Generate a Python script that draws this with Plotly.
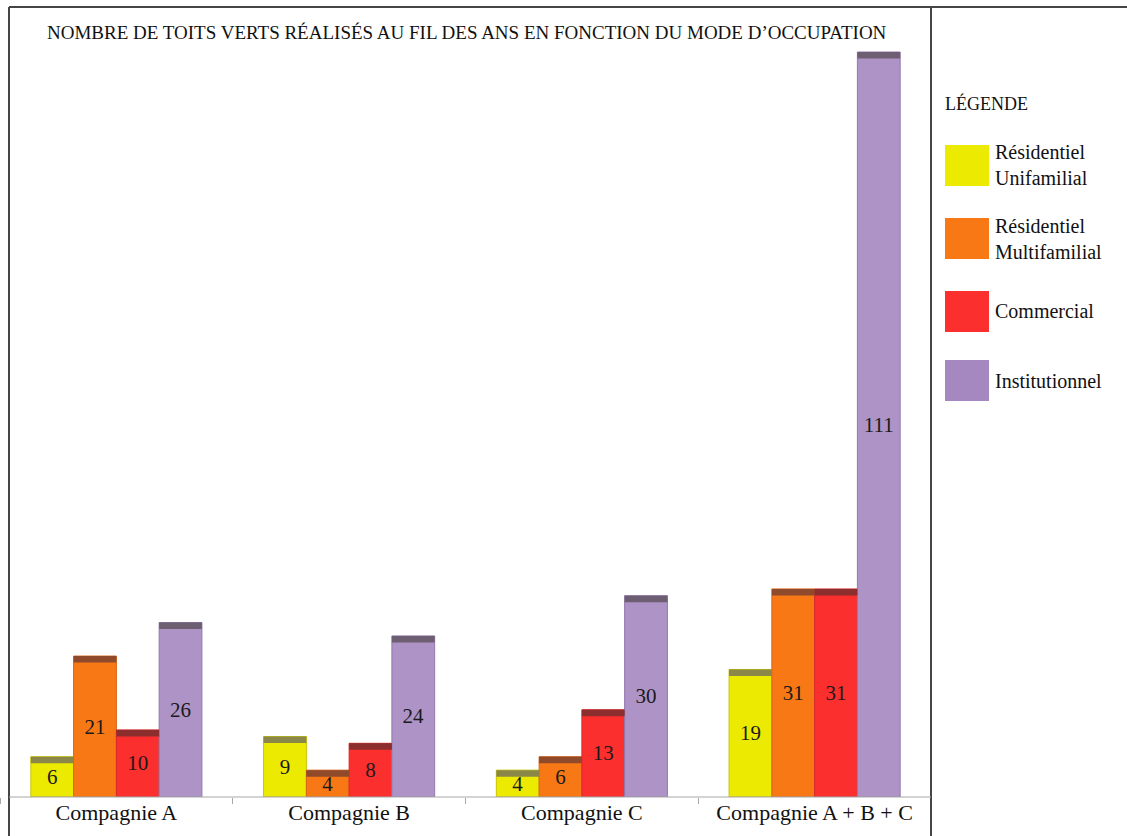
import plotly.graph_objects as go

categories = ["Compagnie A", "Compagnie B", "Compagnie C", "Compagnie A + B + C"]
series_names = ["Résidentiel<br>Unifamilial", "Résidentiel<br>Multifamilial", "Commercial", "Institutionnel"]
unifamilial = [6, 9, 4, 19]
multifamilial = [21, 4, 6, 31]
commercial = [10, 8, 13, 31]
institutionnel = [26, 24, 30, 111]
title_text = "NOMBRE DE TOITS VERTS RÉALISÉS AU FIL DES ANS EN FONCTION DU MODE D’OCCUPATION"
legend_title = "LÉGENDE"

series_values = [unifamilial, multifamilial, commercial, institutionnel]
colors = ["#EDEA02", "#F97816", "#FC2F2F", "#AE93C7"]
edge_colors = ["#C8C400", "#D8621A", "#D82828", "#9278AE"]
cap_colors = ["#8A8748", "#8E4A2A", "#8C2E2E", "#6E5E72"]
swatch_colors = ["#EDEA02", "#F97816", "#FC2F2F", "#A688C0"]

W, H = 1127, 836
PL, PR, PT, PB = 0, 931, 7, 797  # plot area pixel bounds
px_per_unit = (797 - 52) / 111.0
ymax = (PB - PT) / px_per_unit
cap = 6.5 / px_per_unit

def xp(px):
    return (px - PL) / (PR - PL)

def yp(py):
    return (PB - py) / (PB - PT)

serif = "Liberation Serif"

fig = go.Figure()
for i, (name, vals) in enumerate(zip(series_names, series_values)):
    fig.add_trace(go.Bar(
        x=categories, y=vals, name=name, offsetgroup=str(i),
        marker=dict(color=colors[i], line=dict(color=edge_colors[i], width=1)),
        text=[str(v) for v in vals], textposition="inside", textangle=0,
        insidetextanchor="middle", constraintext="none",
        textfont=dict(family=serif, size=21, color="#1a1a1a"),
        showlegend=False, hoverinfo="skip",
    ))
for i, vals in enumerate(series_values):
    fig.add_trace(go.Bar(
        x=categories, y=[cap] * len(vals), base=[v - cap for v in vals],
        offsetgroup=str(i), marker=dict(color=cap_colors[i], line=dict(width=0)),
        showlegend=False, hoverinfo="skip",
    ))

shapes = []
shapes.append(dict(type="line", xref="paper", yref="paper", x0=xp(9), x1=xp(W), y0=yp(7), y1=yp(7),
                   line=dict(color="#454545", width=2)))
shapes.append(dict(type="line", xref="paper", yref="paper", x0=xp(9), x1=xp(9), y0=yp(7), y1=yp(H),
                   line=dict(color="#454545", width=2)))
shapes.append(dict(type="line", xref="paper", yref="paper", x0=xp(931), x1=xp(931), y0=yp(7), y1=yp(H),
                   line=dict(color="#454545", width=2)))
shapes.append(dict(type="line", xref="paper", yref="paper", x0=xp(9), x1=xp(931), y0=0, y1=0,
                   line=dict(color="#A8A8A8", width=1.2)))

annotations = [dict(text=title_text, xref="paper", yref="paper", x=xp(467), y=yp(33),
                    xanchor="center", yanchor="middle", showarrow=False,
                    font=dict(family=serif, size=19, color="#111"))]
annotations.append(dict(text=legend_title, xref="paper", yref="paper", x=xp(943), y=yp(104),
                        xanchor="left", yanchor="middle", showarrow=False,
                        font=dict(family=serif, size=18, color="#111")))
sw_top = [145, 218, 291, 360]
for i, name in enumerate(series_names):
    y0, y1 = sw_top[i], sw_top[i] + 41
    shapes.append(dict(type="rect", xref="paper", yref="paper", x0=xp(945), x1=xp(989),
                       y0=yp(y1), y1=yp(y0), fillcolor=swatch_colors[i], line=dict(width=0)))
    annotations.append(dict(text=name, xref="paper", yref="paper", x=xp(993), y=yp((y0 + y1) / 2),
                            xanchor="left", yanchor="middle", align="left", showarrow=False,
                            font=dict(family=serif, size=20, color="#111")))

fig.update_layout(
    width=W, height=H,
    margin=dict(l=PL, r=W - PR, t=PT, b=H - PB, pad=0),
    paper_bgcolor="white", plot_bgcolor="white",
    font=dict(family=serif),
    barmode="group", bargap=0.265, bargroupgap=0,
    xaxis=dict(type="category", range=[-0.5, 3.5], showline=False, showgrid=False,
               ticks="outside", tickson="boundaries", ticklen=6, tickcolor="#A8A8A8",
               tickfont=dict(family=serif, size=22, color="#111"), fixedrange=True),
    yaxis=dict(range=[0, ymax], visible=False, showgrid=False, zeroline=False, fixedrange=True),
    shapes=shapes, annotations=annotations,
)

fig.write_html("out.html")
